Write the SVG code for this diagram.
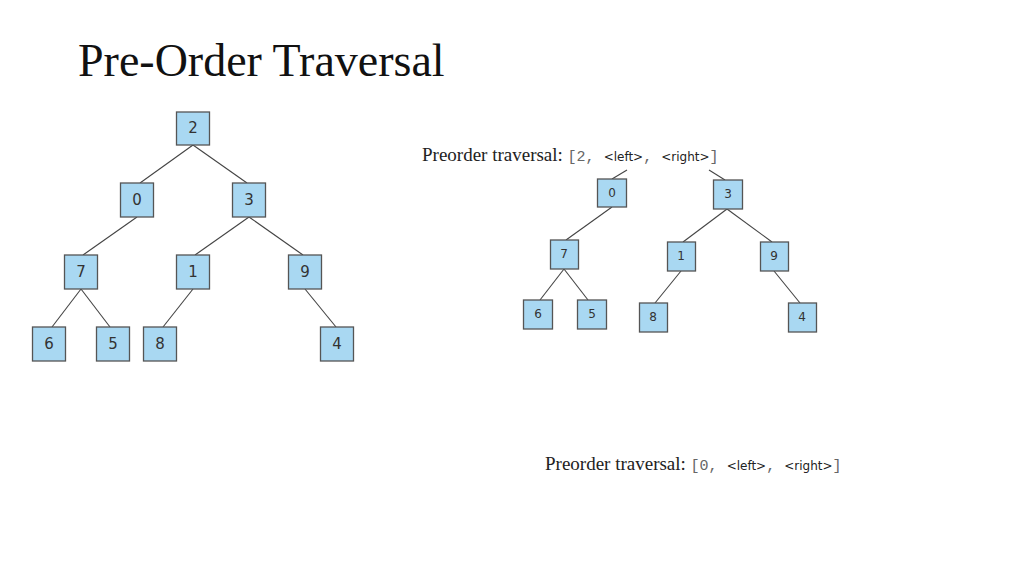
<svg xmlns="http://www.w3.org/2000/svg" width="1024" height="576" viewBox="0 0 1024 576">
<style>
.n rect{fill:#a9d8f2;stroke:#555;stroke-width:1.3}
.n text{font-family:"DejaVu Sans",sans-serif;fill:#333;text-anchor:middle;dominant-baseline:central}
.big text{font-size:15px}.sm text{font-size:12px}
#edges line{stroke:#444;stroke-width:1.1}
.s{font-family:"Liberation Serif",serif;font-size:19px;fill:#222}
.m{font-family:"Liberation Mono",monospace;font-size:15px;fill:#666}
.t{font-family:"DejaVu Sans",sans-serif;font-size:12px;fill:#222}
</style>
<rect width="1024" height="576" fill="#fff"/>
<text x="78" y="76" font-family="Liberation Serif,serif" font-size="46" fill="#111">Pre-Order Traversal</text>
<g id="edges">
<line x1="193" y1="145" x2="140" y2="183"/><line x1="193" y1="145" x2="247" y2="183"/>
<line x1="137" y1="217" x2="83" y2="255"/><line x1="249" y1="217" x2="195" y2="255"/><line x1="249" y1="217" x2="303" y2="255"/>
<line x1="81" y1="289" x2="52" y2="327"/><line x1="81" y1="289" x2="110" y2="327"/>
<line x1="193" y1="289" x2="163" y2="327"/><line x1="305" y1="289" x2="336" y2="327"/>
<line x1="627" y1="170" x2="612" y2="179"/><line x1="709" y1="170" x2="725" y2="180"/>
<line x1="612" y1="207" x2="566" y2="240"/><line x1="727" y1="209" x2="683" y2="242"/><line x1="727" y1="209" x2="772" y2="242"/>
<line x1="564" y1="269" x2="540" y2="300"/><line x1="564" y1="269" x2="588" y2="300"/>
<line x1="681" y1="271" x2="655" y2="303"/><line x1="774" y1="271" x2="800" y2="303"/>
</g>
<g class="big">
<g id="L2" class="n"><rect x="176.5" y="112" width="33" height="33"/><text x="193" y="128">2</text></g>
<g id="L0" class="n"><rect x="120.5" y="183" width="33" height="34"/><text x="137" y="200">0</text></g>
<g id="L3" class="n"><rect x="232.5" y="183" width="33" height="34"/><text x="249" y="200">3</text></g>
<g id="L7" class="n"><rect x="64.5" y="255" width="33" height="34"/><text x="81" y="272">7</text></g>
<g id="L1" class="n"><rect x="176.5" y="255" width="33" height="34"/><text x="193" y="272">1</text></g>
<g id="L9" class="n"><rect x="288.5" y="255" width="33" height="34"/><text x="305" y="272">9</text></g>
<g id="L6" class="n"><rect x="32.5" y="327" width="33" height="34"/><text x="49" y="344">6</text></g>
<g id="L5" class="n"><rect x="96.5" y="327" width="33" height="34"/><text x="113" y="344">5</text></g>
<g id="L8" class="n"><rect x="143.5" y="327" width="33" height="34"/><text x="160" y="344">8</text></g>
<g id="L4" class="n"><rect x="320.5" y="327" width="33" height="34"/><text x="337" y="344">4</text></g>
</g>
<g class="sm">
<g id="R0" class="n"><rect x="597.5" y="179" width="29" height="28"/><text x="612" y="193">0</text></g>
<g id="R3" class="n"><rect x="713.5" y="180" width="29" height="29"/><text x="728" y="194">3</text></g>
<g id="R7" class="n"><rect x="550.5" y="240" width="28" height="29"/><text x="564" y="254">7</text></g>
<g id="R1" class="n"><rect x="667.5" y="242" width="28" height="29"/><text x="681" y="256">1</text></g>
<g id="R9" class="n"><rect x="760.5" y="242" width="28" height="29"/><text x="774" y="256">9</text></g>
<g id="R6" class="n"><rect x="523.5" y="300" width="29" height="29"/><text x="538" y="314">6</text></g>
<g id="R5" class="n"><rect x="577.5" y="300" width="29" height="29"/><text x="592" y="314">5</text></g>
<g id="R8" class="n"><rect x="639.5" y="303" width="28" height="29"/><text x="653" y="317">8</text></g>
<g id="R4" class="n"><rect x="788.5" y="303" width="28" height="29"/><text x="802" y="317">4</text></g>
</g>
<text x="422" y="161"><tspan class="s">Preorder traversal: </tspan><tspan class="m">[2, </tspan><tspan class="t">&lt;left&gt;</tspan><tspan class="m">, </tspan><tspan class="t">&lt;right&gt;</tspan><tspan class="m">]</tspan></text>
<text x="545" y="470"><tspan class="s">Preorder traversal: </tspan><tspan class="m">[0, </tspan><tspan class="t">&lt;left&gt;</tspan><tspan class="m">, </tspan><tspan class="t">&lt;right&gt;</tspan><tspan class="m">]</tspan></text>
</svg>
